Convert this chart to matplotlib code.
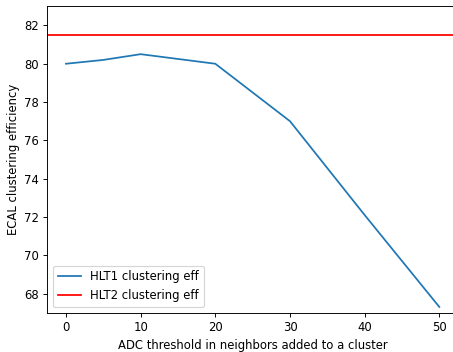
import matplotlib
matplotlib.use("Agg")
import matplotlib.pyplot as plt

# ADC threshold vs clustering efficiency
thresholds = [0, 5, 10, 20, 30, 40, 50]
hlt1_eff = [80.0, 80.2, 80.5, 80.0, 77.0, 72.1, 67.3]
hlt2_eff = 81.5

DPI = 84
fig = plt.figure(figsize=(453 / DPI, 352 / DPI), dpi=DPI)
# right spine falls just outside the picture, as in the reference
ax = fig.add_axes([47.3 / 453, 39.3 / 352, 410.7 / 453, 306.4 / 352])

ax.plot(thresholds, hlt1_eff, label='HLT1 clustering eff')
ax.axhline(hlt2_eff, color='red', label='HLT2 clustering eff')

ax.set_xlim(-2.5, 52.5)
ax.set_ylim(67, 83)
ax.set_xlabel('ADC threshold in neighbors added to a cluster')
ax.set_ylabel('ECAL clustering efficiency')
ax.legend(loc='lower left')

fig.savefig('out.png', dpi=DPI)
